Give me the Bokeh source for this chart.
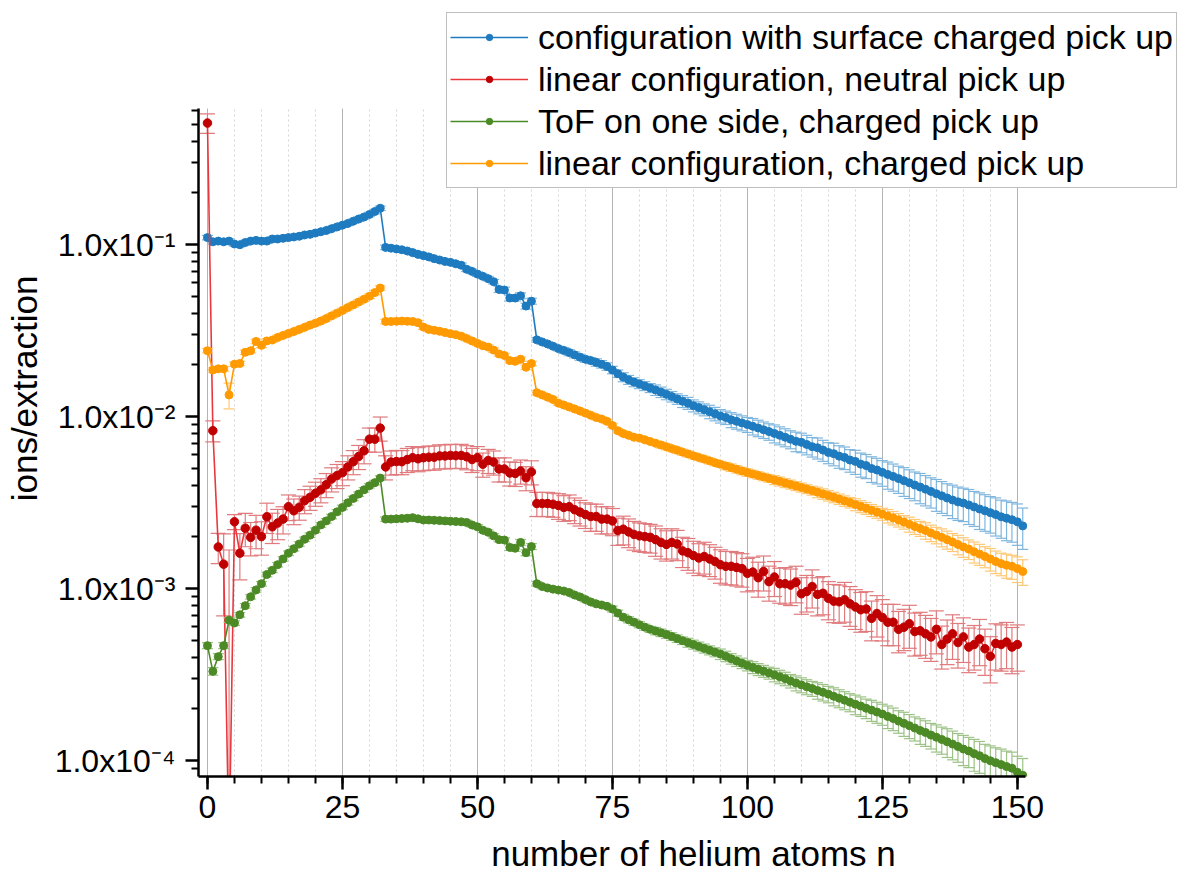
import numpy as np
from bokeh.plotting import figure
from bokeh.models import Range1d, FixedTicker, SingleIntervalTicker, Legend, LegendItem
from bokeh.embed import file_html
from bokeh.resources import INLINE

# ---------------- data ----------------
n_all = list(range(0, 152))      # n = 0..151
n_red = list(range(0, 151))      # n = 0..150

blue = [
    0.110, 0.104, 0.105, 0.104, 0.105, 0.101, 0.100, 0.103, 0.105, 0.106,   # 0-9
    0.105, 0.105, 0.108, 0.108, 0.109, 0.110, 0.111, 0.112, 0.114, 0.115,   # 10-19
    0.117, 0.119, 0.121, 0.124, 0.127, 0.130, 0.133, 0.137, 0.141, 0.145,   # 20-29
    0.150, 0.156, 0.163, 0.0965, 0.0955, 0.0945, 0.0935, 0.092, 0.090, 0.088,  # 30-39
    0.0865, 0.085, 0.083, 0.0815, 0.080, 0.079, 0.0775, 0.076, 0.072, 0.070,   # 40-49
    0.0675, 0.0655, 0.0635, 0.061, 0.055, 0.0545, 0.049, 0.049, 0.0505, 0.044,  # 50-59
    0.047, 0.0280, 0.0272, 0.0265, 0.0257, 0.0249, 0.0243, 0.0236, 0.0229, 0.0222,  # 60-69
    0.0216, 0.0212, 0.0207, 0.0202, 0.0196, 0.0187, 0.0178, 0.0170, 0.0164, 0.0159,  # 70-79
    0.0155, 0.0151, 0.0147, 0.0143, 0.0139, 0.0135, 0.0131, 0.0127, 0.0123, 0.0120,  # 80-89
    0.0116, 0.0113, 0.0110, 0.0107, 0.0104, 0.0101, 0.0099, 0.0096, 0.0094, 0.0092,  # 90-99
    0.0090, 0.0088, 0.0086, 0.0084, 0.0082, 0.0080, 0.0078, 0.0076, 0.0074, 0.0072,  # 100-109
    0.0071, 0.0069, 0.0067, 0.0066, 0.0064, 0.0062, 0.0061, 0.0059, 0.0058, 0.0056,  # 110-119
    0.0055, 0.0053, 0.0052, 0.0050, 0.0049, 0.00475, 0.00462, 0.00450, 0.00437, 0.00425,  # 120-129
    0.00413, 0.00401, 0.00390, 0.00379, 0.00368, 0.00357, 0.00347, 0.00337, 0.00328, 0.00320,  # 130-139
    0.00315, 0.00307, 0.00299, 0.00291, 0.00284, 0.00277, 0.00270, 0.00262, 0.00257, 0.00252,  # 140-149
    0.00245, 0.00232,  # 150-151
]
blue_err_pct = [
    3, 3, 3, 3, 3, 3, 3, 3, 3, 3,
    3, 3, 3, 3, 3, 3, 3, 3, 3, 3,
    3, 3, 3, 3, 3, 3, 3, 3, 3, 3,
    3, 3, 3, 3, 3, 3, 3, 3, 3, 3,
    3, 3, 3, 3, 3, 3, 3, 3, 3, 3,
    3, 3, 3, 3, 4, 4, 4, 4, 4, 4,
    4, 3, 3, 3, 3, 3, 4, 4, 4, 4,
    4, 4, 5, 5, 5, 5, 5, 6, 6, 6,
    6, 6, 6, 7, 7, 7, 7, 7, 8, 8,
    8, 8, 8, 9, 9, 9, 9, 10, 10, 10,
    10, 11, 11, 11, 11, 12, 12, 12, 12, 13,
    13, 13, 13, 14, 14, 14, 15, 15, 15, 15,
    16, 16, 16, 17, 17, 17, 18, 18, 18, 19,
    19, 19, 20, 20, 20, 21, 21, 21, 22, 22,
    22, 23, 23, 24, 24, 24, 25, 25, 26, 26,
    27, 27,
]

red = [
    0.51, 0.0083, 0.00175, 0.00139, 0.00003, 0.00245, 0.00161, 0.00225, 0.00199, 0.00219,   # 0-9
    0.00201, 0.00262, 0.00229, 0.00241, 0.00254, 0.00300, 0.00284, 0.00298, 0.00325, 0.00340,  # 10-19
    0.00359, 0.00376, 0.00403, 0.00435, 0.00455, 0.00473, 0.00511, 0.00548, 0.00587, 0.00634,  # 20-29
    0.00741, 0.00741, 0.00859, 0.00511, 0.00545, 0.00549, 0.00548, 0.00564, 0.00578, 0.00570,  # 30-39
    0.00578, 0.00582, 0.00582, 0.00592, 0.00592, 0.00596, 0.00594, 0.00596, 0.00585, 0.00564,  # 40-49
    0.00578, 0.00530, 0.00557, 0.00545, 0.00497, 0.00497, 0.00471, 0.00468, 0.00483, 0.00442,  # 50-59
    0.00478, 0.00313, 0.00313, 0.00313, 0.00310, 0.00305, 0.00297, 0.00300, 0.00288, 0.00279,  # 60-69
    0.00270, 0.00263, 0.00263, 0.00254, 0.00254, 0.00248, 0.00218, 0.00222, 0.00214, 0.00207,  # 70-79
    0.00203, 0.00201, 0.00199, 0.00193, 0.00186, 0.00181, 0.00186, 0.00182, 0.00166, 0.00162,  # 80-89
    0.00156, 0.00151, 0.00154, 0.00149, 0.00144, 0.00138, 0.00135, 0.00135, 0.00133, 0.00131,  # 90-99
    0.00123, 0.00125, 0.00116, 0.00126, 0.00110, 0.00117, 0.00107, 0.00107, 0.00105, 0.00109,  # 100-109
    0.000935, 0.000964, 0.00103, 0.000927, 0.000941, 0.000880, 0.000847, 0.000840, 0.000864, 0.000817,  # 110-119
    0.000784, 0.000755, 0.000763, 0.000673, 0.000718, 0.000681, 0.000639, 0.000639, 0.000581, 0.000598,  # 120-129
    0.000626, 0.000564, 0.000570, 0.000547, 0.000525, 0.000581, 0.000474, 0.000510, 0.000547, 0.000487,  # 130-139
    0.000525, 0.000458, 0.000474, 0.000510, 0.000448, 0.000405, 0.000481, 0.000474, 0.000490, 0.000458,  # 140-149
    0.000474,  # 150
]
red_err_pct = [
    13, 14, 20, 50, 5500, 10, 30, 22, 22, 22,
    22, 20, 20, 20, 18, 17, 17, 16, 16, 16,
    16, 16, 16, 16, 16, 16, 16, 16, 16, 16,
    16, 16, 16, 16, 16, 16, 16, 16, 16, 16,
    16, 16, 16, 16, 16, 16, 16, 16, 16, 16,
    16, 16, 16, 16, 16, 16, 16, 16, 16, 16,
    16, 16, 16, 16, 16, 17, 17, 17, 17, 17,
    17, 18, 18, 18, 18, 18, 18, 19, 19, 19,
    19, 19, 19, 20, 20, 20, 20, 20, 20, 21,
    21, 21, 21, 21, 21, 22, 22, 22, 22, 22,
    22, 22, 23, 23, 23, 23, 23, 24, 24, 24,
    24, 24, 25, 25, 25, 25, 25, 25, 26, 26,
    26, 26, 26, 26, 27, 27, 27, 27, 27, 27,
    28, 28, 28, 28, 28, 28, 28, 29, 29, 29,
    29, 29, 29, 30, 30, 30, 30, 30, 30, 30,
    30,
]

green = [
    0.000467, 0.000331, 0.000403, 0.000467, 0.000657, 0.000632, 0.000706, 0.000797, 0.000898, 0.000985,  # 0-9
    0.00107, 0.00121, 0.00128, 0.00138, 0.00149, 0.00161, 0.00171, 0.00182, 0.00194, 0.00205,  # 10-19
    0.00219, 0.00235, 0.00248, 0.00263, 0.00280, 0.00297, 0.00316, 0.00335, 0.00355, 0.00376,  # 20-29
    0.00397, 0.00414, 0.00440, 0.00254, 0.00254, 0.00255, 0.00256, 0.00257, 0.00259, 0.00255,  # 30-39
    0.00251, 0.00251, 0.00250, 0.00249, 0.00248, 0.00247, 0.00246, 0.00245, 0.00243, 0.00235,  # 40-49
    0.00229, 0.00219, 0.00213, 0.00203, 0.00193, 0.00192, 0.00174, 0.00172, 0.00186, 0.00162,  # 50-59
    0.00176, 0.00107, 0.00103, 0.00101, 0.000995, 0.000982, 0.000970, 0.000950, 0.000920, 0.000896,  # 60-69
    0.000865, 0.000838, 0.000817, 0.000805, 0.000790, 0.000763, 0.000722, 0.000683, 0.000660, 0.000639,  # 70-79
    0.000618, 0.000598, 0.000581, 0.000568, 0.000555, 0.000542, 0.000528, 0.000513, 0.000499, 0.000486,  # 80-89
    0.000474, 0.000462, 0.000450, 0.000439, 0.000428, 0.000417, 0.000405, 0.000392, 0.000380, 0.000369,  # 90-99
    0.000358, 0.000349, 0.000340, 0.000332, 0.000324, 0.000316, 0.000308, 0.000300, 0.000291, 0.000283,  # 100-109
    0.000276, 0.000269, 0.000263, 0.000256, 0.000250, 0.000244, 0.000237, 0.000231, 0.000225, 0.000219,  # 110-119
    0.000213, 0.000208, 0.000202, 0.000197, 0.000192, 0.000187, 0.000181, 0.000176, 0.000170, 0.000165,  # 120-129
    0.000160, 0.000155, 0.000150, 0.000146, 0.000141, 0.000137, 0.000133, 0.000129, 0.000125, 0.000121,  # 130-139
    0.000117, 0.000114, 0.000110, 0.000107, 0.000103, 0.000100, 0.0000975, 0.0000950, 0.0000925, 0.0000905,  # 140-149
    0.0000857, 0.0000824,  # 150-151
]
green_err_pct = [
    4, 5, 4, 4, 3, 3, 3, 3, 3, 3,
    3, 3, 3, 3, 3, 3, 3, 3, 3, 3,
    3, 3, 3, 3, 3, 3, 3, 3, 3, 3,
    3, 3, 3, 3, 3, 3, 3, 3, 3, 3,
    3, 3, 3, 3, 3, 3, 3, 3, 3, 3,
    3, 3, 3, 3, 3, 3, 4, 4, 4, 4,
    4, 3, 3, 3, 3, 3, 3, 3, 3, 3,
    3, 3, 3, 3, 3, 4, 4, 4, 4, 4,
    4, 4, 4, 5, 5, 5, 5, 5, 5, 6,
    6, 6, 6, 6, 6, 7, 7, 7, 7, 7,
    7, 8, 8, 8, 8, 9, 9, 9, 9, 10,
    10, 10, 10, 11, 11, 11, 12, 12, 12, 12,
    13, 13, 13, 14, 14, 14, 15, 15, 15, 16,
    16, 16, 17, 17, 17, 18, 18, 19, 19, 19,
    20, 20, 21, 21, 21, 22, 22, 23, 23, 24,
    24, 25,
]

orange = [
    0.0242, 0.0187, 0.0190, 0.0190, 0.0134, 0.0202, 0.0204, 0.0237, 0.0242, 0.0274,   # 0-9
    0.0260, 0.0276, 0.0279, 0.0289, 0.0297, 0.0305, 0.0313, 0.0322, 0.0331, 0.0341,   # 10-19
    0.0350, 0.0360, 0.0372, 0.0386, 0.0400, 0.0415, 0.0431, 0.0447, 0.0464, 0.0482,   # 20-29
    0.0502, 0.0527, 0.0560, 0.0358, 0.0358, 0.0359, 0.0360, 0.0359, 0.0358, 0.0352,   # 30-39
    0.0332, 0.0322, 0.0318, 0.0314, 0.0309, 0.0304, 0.0300, 0.0294, 0.0285, 0.0276,   # 40-49
    0.0267, 0.0259, 0.0254, 0.0244, 0.0232, 0.0227, 0.0212, 0.0210, 0.0216, 0.0194,   # 50-59
    0.0204, 0.0138, 0.0134, 0.0130, 0.0126, 0.0120, 0.0117, 0.0114, 0.0111, 0.0108,   # 60-69
    0.0105, 0.0102, 0.0099, 0.0097, 0.0094, 0.0089, 0.0083, 0.0080, 0.0078, 0.0076,   # 70-79
    0.00752, 0.00735, 0.00718, 0.00701, 0.00685, 0.00669, 0.00653, 0.00638, 0.00622, 0.00608,  # 80-89
    0.00593, 0.00580, 0.00567, 0.00554, 0.00541, 0.00529, 0.00517, 0.00506, 0.00495, 0.00484,  # 90-99
    0.00474, 0.00465, 0.00456, 0.00447, 0.00438, 0.00429, 0.00421, 0.00412, 0.00404, 0.00396,  # 100-109
    0.00388, 0.00380, 0.00372, 0.00364, 0.00356, 0.00348, 0.00340, 0.00332, 0.00324, 0.00317,  # 110-119
    0.00309, 0.00301, 0.00294, 0.00286, 0.00279, 0.00272, 0.00265, 0.00258, 0.00251, 0.00244,  # 120-129
    0.00237, 0.00230, 0.00224, 0.00218, 0.00211, 0.00205, 0.00199, 0.00193, 0.00187, 0.00181,  # 130-139
    0.00175, 0.00170, 0.00164, 0.00159, 0.00154, 0.00149, 0.00144, 0.00140, 0.00137, 0.00135,  # 140-149
    0.00131, 0.00126,  # 150-151
]
orange_err_pct = [
    3, 3, 3, 3, 17, 3, 3, 3, 3, 3,
    3, 3, 3, 3, 3, 3, 3, 3, 3, 3,
    3, 3, 3, 3, 3, 3, 3, 3, 3, 3,
    3, 3, 3, 3, 3, 3, 3, 3, 3, 3,
    3, 3, 3, 3, 3, 3, 3, 3, 3, 3,
    3, 3, 3, 3, 3, 3, 3, 3, 3, 3,
    3, 3, 3, 3, 3, 3, 3, 3, 3, 3,
    3, 3, 3, 3, 3, 3, 3, 3, 3, 3,
    3, 3, 3, 3, 4, 4, 4, 4, 4, 4,
    4, 4, 4, 4, 4, 4, 5, 5, 5, 5,
    5, 5, 5, 5, 5, 6, 6, 6, 6, 6,
    6, 6, 6, 7, 7, 7, 7, 7, 7, 7,
    8, 8, 8, 8, 8, 8, 9, 9, 9, 9,
    10, 10, 10, 11, 11, 11, 12, 12, 12, 13,
    13, 13, 14, 14, 14, 15, 15, 15, 16, 16,
    17, 17,
]

labels = [
    "configuration with surface charged pick up",
    "linear configuration, neutral pick up",
    "ToF on one side, charged pick up",
    "linear configuration, charged pick up",
]

y_tick_values = [1e-4, 1e-3, 1e-2, 1e-1]
y_tick_labels = ["1.0x10\u207b\u2074", "1.0x10\u207b\u00b3", "1.0x10\u207b\u00b2", "1.0x10\u207b\u00b9"]

# axis extents (data units) and the wider frame the legend can sit in
x_axis_span = (-1.66, 151.6)
y_axis_span = (8.1e-5, 0.62)

# ---------------- figure ----------------
FONT = "Liberation Sans"
p = figure(width=1188, height=884, y_axis_type="log",
           x_range=Range1d(-1.66, 181.7), y_range=Range1d(8.1e-5, 2.63),
           output_backend="svg", toolbar_location=None,
           min_border_left=198, min_border_right=0,
           min_border_top=0, min_border_bottom=108)
p.outline_line_color = None
p.background_fill_color = "white"
p.border_fill_color = "white"

# x axis / grid
p.xaxis.ticker = SingleIntervalTicker(interval=25, num_minor_ticks=5)
p.xaxis.bounds = x_axis_span
p.xgrid.ticker = p.xaxis.ticker
p.xgrid.bounds = x_axis_span
p.xgrid.cross_bounds = y_axis_span
p.xgrid.grid_line_color = "#b4b4b4"
p.xgrid.grid_line_width = 1
p.xgrid.minor_grid_line_color = "#d6d6d6"
p.xgrid.minor_grid_line_dash = "2 3"
p.xgrid.minor_grid_line_width = 1
p.ygrid.grid_line_color = None

minor_y = [m * 10.0 ** k for k in range(-5, 0) for m in range(2, 10)
           if y_axis_span[0] <= m * 10.0 ** k <= y_axis_span[1]]
p.yaxis.ticker = FixedTicker(ticks=y_tick_values, minor_ticks=minor_y)
p.yaxis.bounds = y_axis_span
p.yaxis.major_label_overrides = dict(zip(y_tick_values, y_tick_labels))

for ax in (p.xaxis[0], p.yaxis[0]):
    ax.axis_line_width = 2.5
    ax.axis_line_color = "black"
    ax.major_tick_line_width = 2.5
    ax.minor_tick_line_width = 2
    ax.major_tick_line_color = "black"
    ax.minor_tick_line_color = "black"
    ax.major_tick_in = 0
    ax.minor_tick_in = 0
    ax.major_tick_out = 13
    ax.minor_tick_out = 7
    ax.major_label_text_font = FONT
    ax.major_label_text_font_size = "32px"
    ax.major_label_text_color = "black"
    ax.axis_label_text_font = FONT
    ax.axis_label_text_font_size = "35px"
    ax.axis_label_text_font_style = "normal"
    ax.axis_label_text_color = "black"

p.xaxis.axis_label = "number of helium atoms n"
p.xaxis.major_label_standoff = 6
p.xaxis.axis_label_standoff = 13
p.yaxis.axis_label = "ions/extraction"
p.yaxis.major_label_standoff = 10
p.yaxis.axis_label_standoff = 8


def draw(xs, ys, errs, line_color, dot_color, err_color, cap, dot_size):
    xs = np.asarray(xs, float)
    ys = np.asarray(ys, float)
    e = np.asarray(errs, float) / 100.0
    hi = ys * (1 + e)
    lo = np.maximum(ys * (1 - e), 1e-9)
    p.segment(xs, lo, xs, hi, line_color=err_color, line_width=1.2)
    p.scatter(xs, hi, marker="dash", size=cap, line_color=err_color, line_width=1.2)
    p.scatter(xs, lo, marker="dash", size=cap, line_color=err_color, line_width=1.2)
    lr = p.line(xs, ys, line_color=line_color, line_width=1.6)
    mr = p.scatter(xs, ys, marker="circle", size=dot_size, fill_color=dot_color, line_color=dot_color)
    return lr, mr


b_l, b_m = draw(n_all, blue, blue_err_pct, "#1f7bbf", "#1f7bbf", "#7fb6de", 11, 8)
r_l, r_m = draw(n_red, red, red_err_pct, "#e8383d", "#c00000", "#e07a7d", 15, 8.5)
g_l, g_m = draw(n_all, green, green_err_pct, "#4c8a26", "#4c8a26", "#9cc286", 11, 8)
o_l, o_m = draw(n_all, orange, orange_err_pct, "#ff9a00", "#ff9a00", "#ffc874", 11, 8)

legend = Legend(items=[
    LegendItem(label=labels[0], renderers=[b_l, b_m]),
    LegendItem(label=labels[1], renderers=[r_l, r_m]),
    LegendItem(label=labels[2], renderers=[g_l, g_m]),
    LegendItem(label=labels[3], renderers=[o_l, o_m]),
], location=(248, 588))
legend.border_line_color = "#808080"
legend.border_line_width = 1.5
legend.background_fill_color = "white"
legend.background_fill_alpha = 1.0
legend.label_text_font = FONT
legend.label_text_font_size = "34px"
legend.label_text_color = "black"
legend.glyph_width = 78
legend.glyph_height = 16
legend.label_height = 42
legend.label_standoff = 10
legend.spacing = 0
legend.padding = 3
legend.margin = 0
p.add_layout(legend)

open("out.html", "w").write(file_html(p, INLINE))
